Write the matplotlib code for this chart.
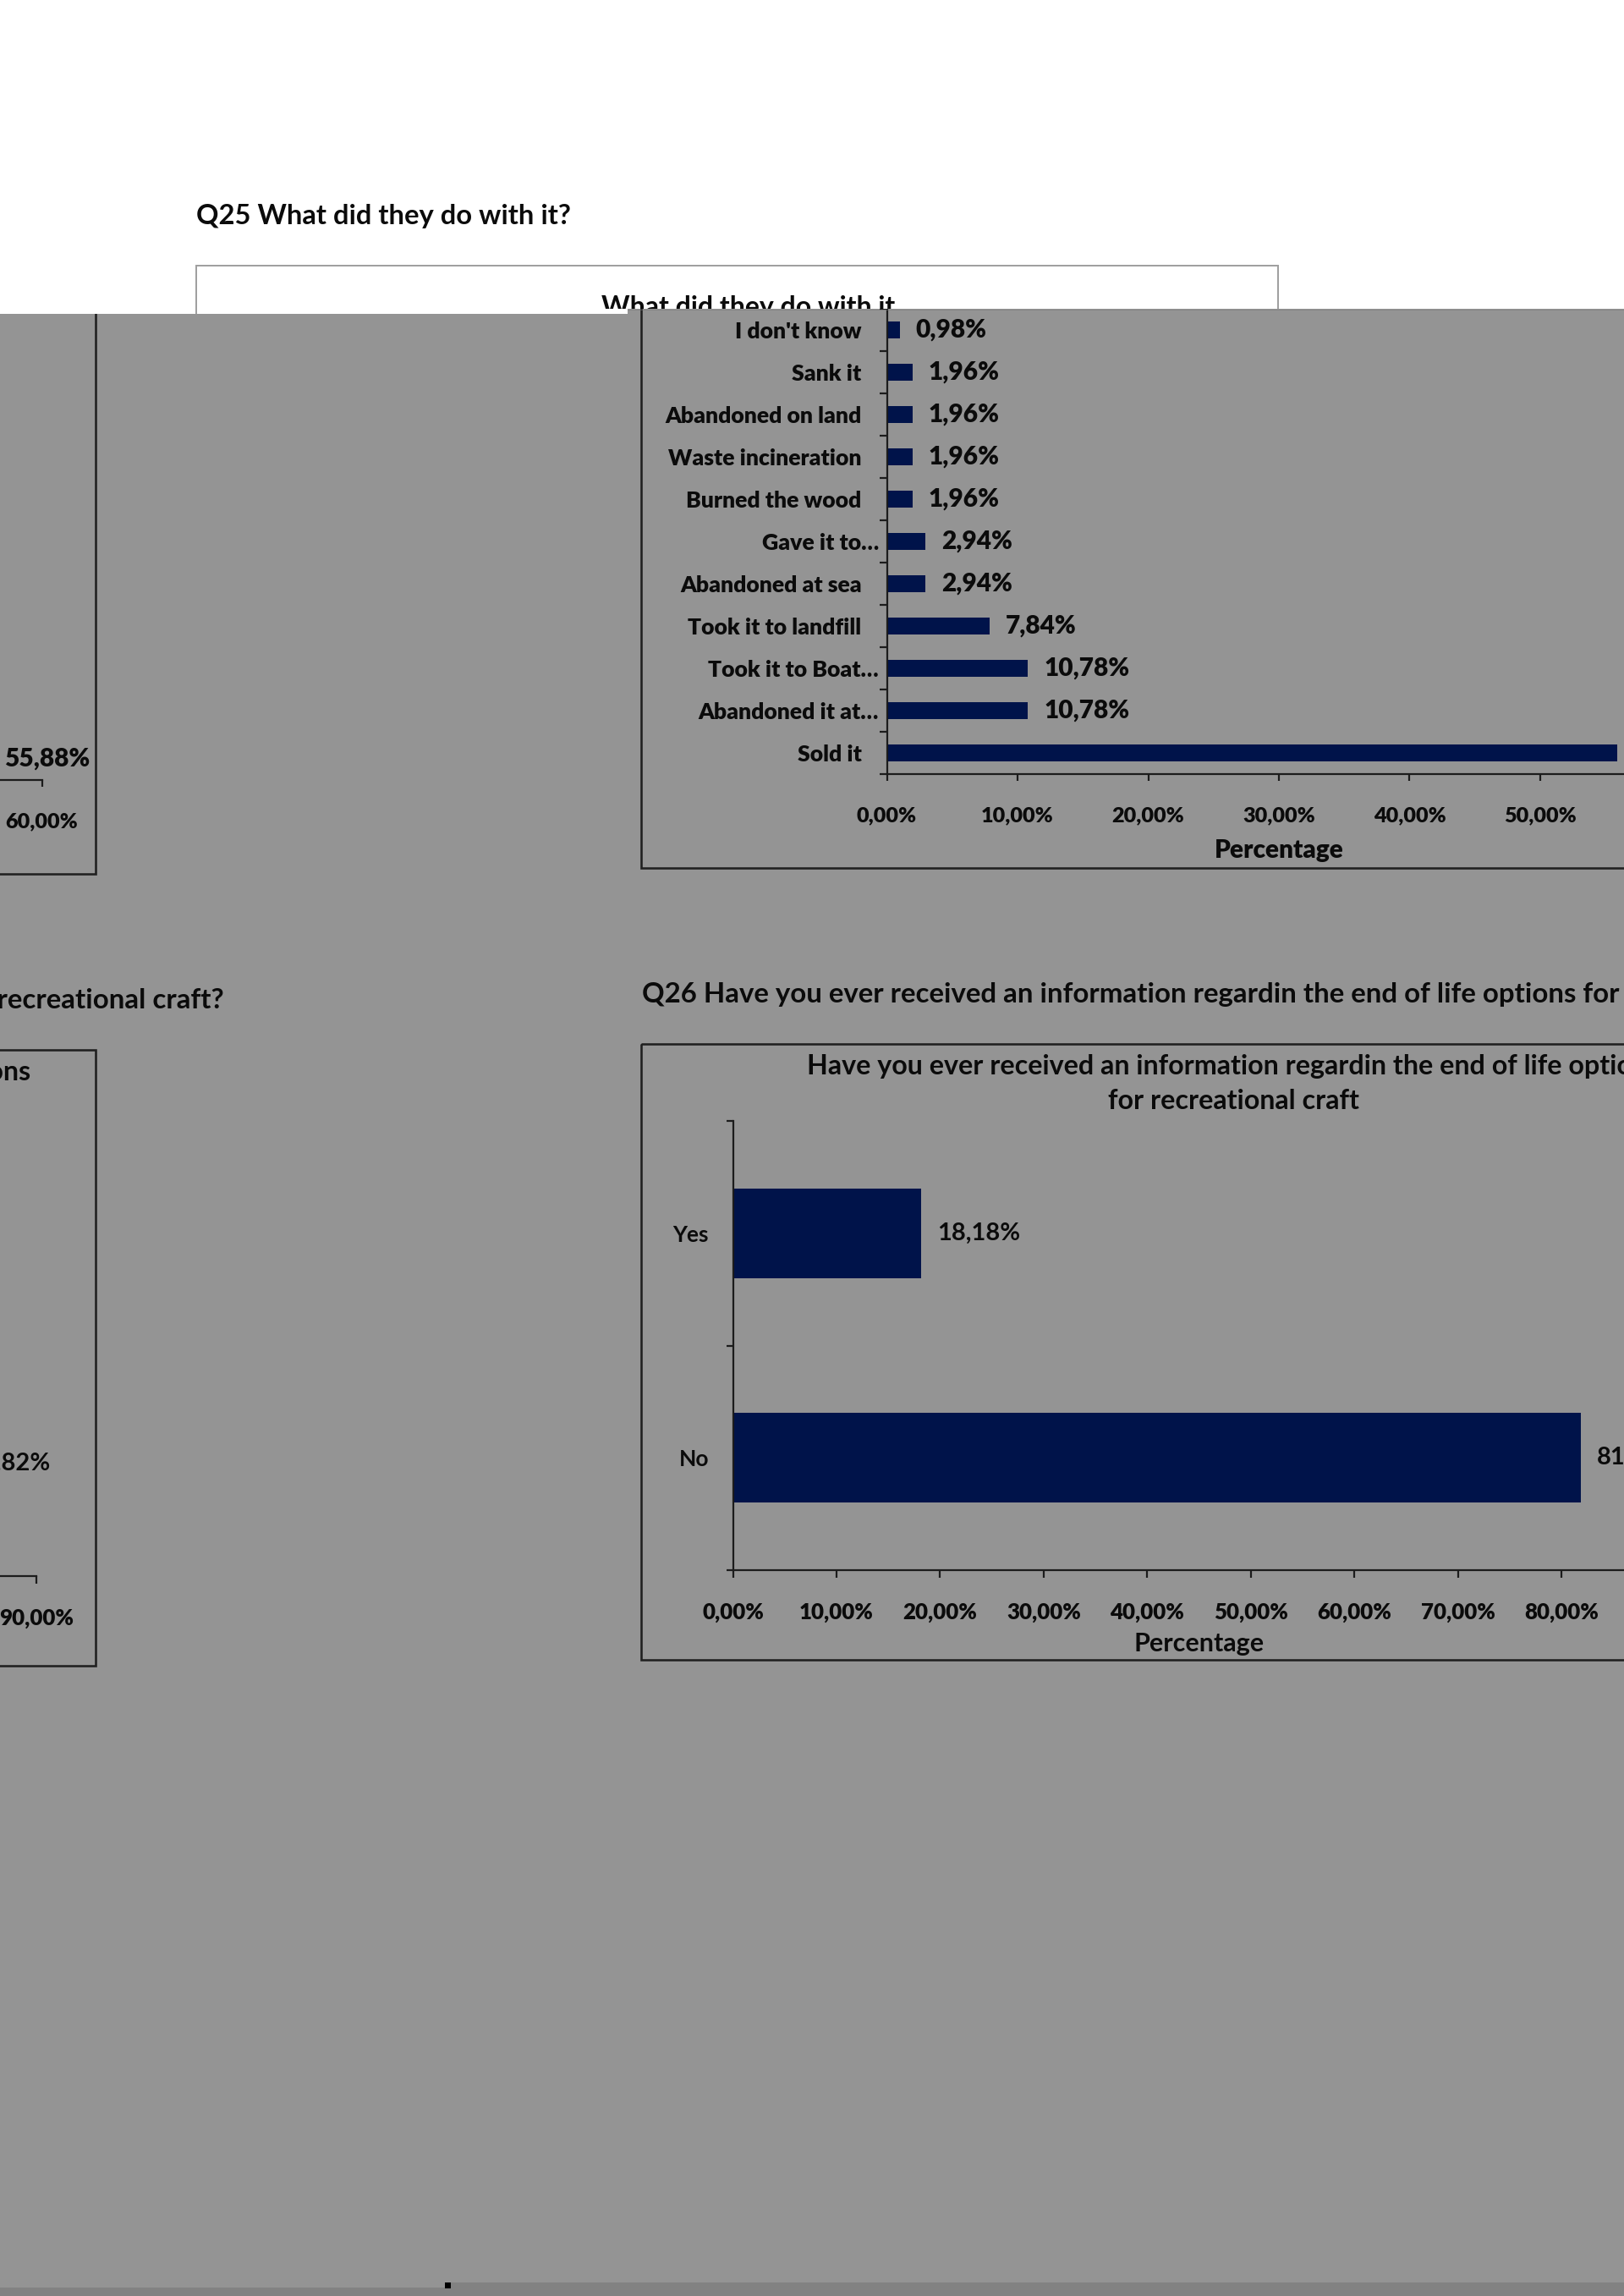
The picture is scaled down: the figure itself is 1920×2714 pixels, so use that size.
import matplotlib
matplotlib.use('Agg')
import matplotlib.pyplot as plt
from matplotlib.patches import Rectangle, Polygon
from matplotlib.lines import Line2D
import matplotlib.transforms as mtransforms

# ---------------- data ----------------
q25_categories = ["I don't know", "Sank it", "Abandoned on land", "Waste incineration",
                  "Burned the wood", "Gave it to…", "Abandoned at sea",
                  "Took it to landfill", "Took it to Boat…", "Abandoned it at…", "Sold it"]
q25_values = [0.98, 1.96, 1.96, 1.96, 1.96, 2.94, 2.94, 7.84, 10.78, 10.78, 55.88]
q25_xticks = [0, 10, 20, 30, 40, 50, 60]

q26_categories = ["Yes", "No"]
q26_values = [18.18, 81.82]
q26_xticks = [0, 10, 20, 30, 40, 50, 60, 70, 80, 90]

q25_heading = "Q25 What did they do with it?"
q25_chart_title = "What did they do with it"
q26_heading = ("Q26 Have you ever received an information regardin the end of life "
               "options for recreational craft?")
q26_chart_title = ["Have you ever received an information regardin the end of life options",
                   "for recreational craft"]
axis_title = "Percentage"

# ---------------- style ----------------
W, H, DPI = 1920, 2714, 100
PT = 72.0 / DPI          # points per pixel
GRAY = '#949494'
BAR = '#00134a'
INK = '#0b0b0b'
AXC = '#1c1c1c'
FRAME = '#202020'
plt.rcParams['font.family'] = ['Lato', 'DejaVu Sans']

fig = plt.figure(figsize=(W / DPI, H / DPI), dpi=DPI)
fig.patch.set_facecolor(GRAY)


def px_axes(x0, y0, x1, y1):
    return fig.add_axes([x0 / W, 1 - y1 / H, (x1 - x0) / W, (y1 - y0) / H])


def pct(v):
    return f"{v:.2f}%".replace('.', ',')


bg = px_axes(0, 0, W, H)
bg.set_xlim(0, W)
bg.set_ylim(H, 0)
bg.axis('off')

# bottom band of the page
bg.add_patch(Rectangle((0, 2704), 530, 10, fc='#828282', ec='none'))
bg.add_patch(Rectangle((530, 2698), W - 530, 16, fc='#828282', ec='none'))
bg.add_patch(Rectangle((526, 2698), 7, 7, fc='black', ec='none'))


def style_axes(ax, n, xmax, xticks, ytick_len, xtick_len, ylab_pad, xlab_pad, tsize, tweight):
    ax.patch.set_alpha(0)
    ax.set_xlim(0, xmax)
    ax.set_ylim(-0.5, n - 0.5)
    for s in ('top', 'right'):
        ax.spines[s].set_visible(False)
    for s in ('left', 'bottom'):
        ax.spines[s].set_color(AXC)
        ax.spines[s].set_linewidth(2.2 * PT)
    ax.set_xticks(xticks, labels=[pct(v) for v in xticks])
    ax.set_yticks([i - 0.5 for i in range(n + 1)], labels=[''] * (n + 1))
    ax.tick_params(axis='x', direction='out', length=xtick_len * PT, width=2.2 * PT,
                   color=AXC, pad=xlab_pad * PT, labelsize=tsize, labelcolor=INK)
    ax.tick_params(axis='y', which='major', direction='out', length=ytick_len * PT,
                   width=2.2 * PT, color=AXC)
    ax.tick_params(axis='y', which='minor', length=0, pad=ylab_pad * PT)
    for lbl in ax.get_xticklabels():
        lbl.set_fontweight(tweight)


def draw_q25(dx, dy):
    bg.add_patch(Rectangle((758 + dx, 300 + dy), 2039 - 758, 1026 - 300,
                           fill=False, ec=FRAME, lw=2.6 * PT))
    ax = px_axes(1048.5 + dx, 365 + dy, 1975.5 + dx, 915 + dy)
    n = len(q25_categories)
    ypos = [n - 1 - i for i in range(n)]
    bars = ax.barh(ypos, q25_values, height=0.41, color=BAR)
    style_axes(ax, n, 60, q25_xticks, 9.5, 7.5, 30, 31, 18.2, 'heavy')
    ax.set_yticks(ypos, labels=q25_categories, minor=True)
    for lbl in ax.get_yticklabels(minor=True):
        lbl.set_fontsize(19.2)
        lbl.set_fontweight('heavy')
        lbl.set_color(INK)
        if lbl.get_text().endswith('…'):
            lbl.set_transform(lbl.get_transform() + mtransforms.ScaledTranslation(
                20.5 / DPI, 0, fig.dpi_scale_trans))
    labels = ax.bar_label(bars, labels=[pct(v) for v in q25_values], padding=19 * PT,
                          fontsize=21.5, fontweight='heavy', color=INK)
    for t in labels:
        t.set_transform(t.get_transform() + mtransforms.ScaledTranslation(
            0, -2 / DPI, fig.dpi_scale_trans))
    ax.set_xlabel(axis_title, fontsize=21.5, fontweight='heavy', color=INK)
    ax.xaxis.set_label_coords(0.5, -(1013.5 - 915) / 550.0)
    ax.xaxis.label.set_va('baseline')


def draw_q26(dx, dy):
    bg.text(759 + dx, 1185 + dy, q26_heading, ha='left', va='baseline',
            fontsize=23.8, fontweight='bold', color=INK)
    bg.add_patch(Rectangle((758 + dx, 1233.6 + dy), 2039 - 758, 1962 - 1233.6,
                           fill=False, ec=FRAME, lw=2.6 * PT))
    bg.text(1458 + dx, 1270 + dy, q26_chart_title[0], ha='center', va='baseline',
            fontsize=23.2, fontweight='bold', color=INK)
    bg.text(1458 + dx, 1311 + dy, q26_chart_title[1], ha='center', va='baseline',
            fontsize=23.2, fontweight='bold', color=INK)
    ax = px_axes(866.5 + dx, 1325.4 + dy, 1968.7 + dx, 1856 + dy)
    n = len(q26_categories)
    ypos = [n - 1 - i for i in range(n)]
    bars = ax.barh(ypos, q26_values, height=0.4, color=BAR)
    style_axes(ax, n, 90, q26_xticks, 8, 8.5, 28.5, 29.5, 18.6, 'heavy')
    ax.set_yticks(ypos, labels=q26_categories, minor=True)
    for lbl in ax.get_yticklabels(minor=True):
        lbl.set_fontsize(19)
        lbl.set_fontweight('bold')
        lbl.set_color(INK)
    ax.bar_label(bars, labels=[pct(v) for v in q26_values], padding=19 * PT,
                 fontsize=21, fontweight='bold', color=INK)
    ax.set_xlabel(axis_title, fontsize=22, fontweight='bold', color=INK)
    ax.xaxis.set_label_coords(0.5, -(1952 - 1856) / (1856 - 1325.4))
    ax.xaxis.label.set_va('baseline')


# the page is shown twice: main view and a shifted copy on the left edge
for dx, dy in [(0, 0), (-1926, 7)]:
    draw_q25(dx, dy)
    draw_q26(dx, dy)

# ---------------- white top layer ----------------
top = px_axes(0, 0, W, H)
top.set_xlim(0, W)
top.set_ylim(H, 0)
top.axis('off')
top.set_zorder(10)
top.patch.set_alpha(0)
white = Polygon([(0, 0), (W, 0), (W, 365), (742, 365), (742, 371), (0, 371)],
                closed=True, fc='white', ec='none')
top.add_patch(white)
box = Rectangle((232, 314), 1511 - 232, 300, fill=False, ec='#a0a0a0', lw=2.0 * PT)
top.add_patch(box)
box.set_clip_path(white)
top.text(232, 265, q25_heading, ha='left', va='baseline', fontsize=23.6,
         fontweight='bold', color=INK)
t2 = top.text(885, 373, q25_chart_title, ha='center', va='baseline', fontsize=23,
              fontweight='bold', color=INK, clip_on=True)
t2.set_clip_box(mtransforms.TransformedBbox(
    mtransforms.Bbox([[0, 0], [W, 365]]), top.transData))
top.add_line(Line2D([742, W], [365.5, 365.5], color='#777777', lw=1.0 * PT,
                    linestyle=(0, (1, 1))))

fig.savefig('out.png', dpi=DPI, facecolor=fig.get_facecolor())
